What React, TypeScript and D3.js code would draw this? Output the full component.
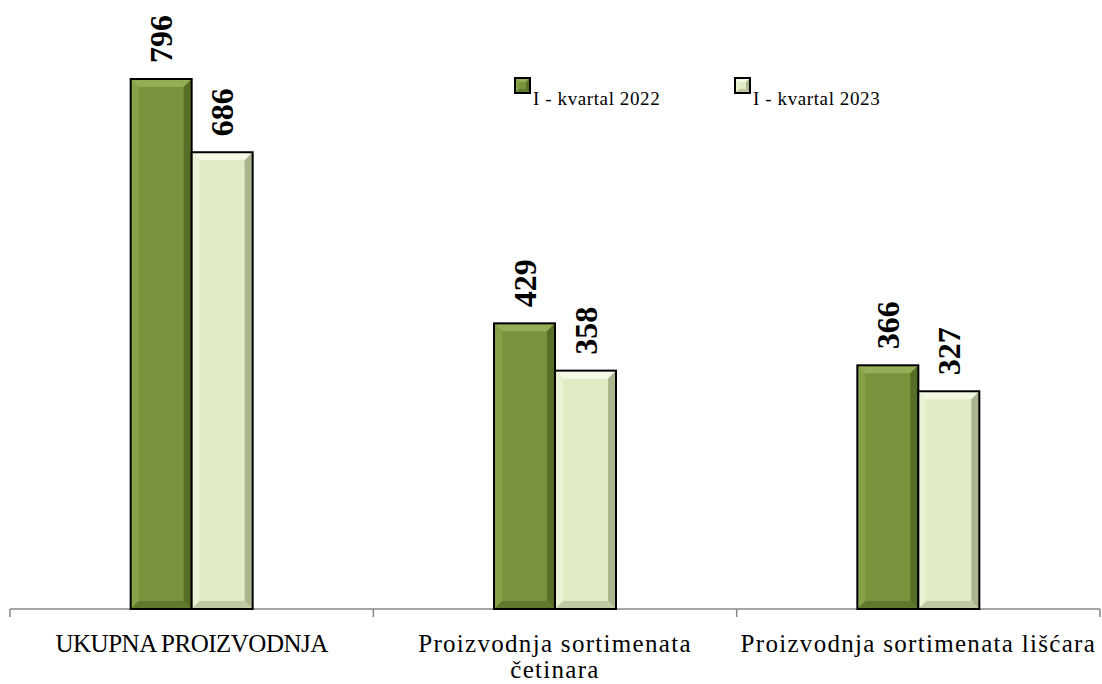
import React from "react";
import * as d3 from "d3";

const categories = ["UKUPNA PROIZVODNJA", "Proizvodnja sortimenata četinara", "Proizvodnja sortimenata lišćara"];
const categoryLines = [["UKUPNA PROIZVODNJA"], ["Proizvodnja sortimenata", "četinara"], ["Proizvodnja sortimenata lišćara"]];
const seriesNames = ["I - kvartal 2022", "I - kvartal 2023"];
const values2022 = [796, 429, 366];
const values2023 = [686, 358, 327];

const W = 1102, H = 684;
const margin = { left: 10, right: 2, top: 0, bottom: 75 };
const baseY = 609;

const palettes = [
  { main: "#77933C", top: "#93AE55", left: "#86A146", right: "#566E25", bottom: "#5F7A2C" },
  { main: "#E0ECC4", top: "#F4F9E6", left: "#EAF3D4", right: "#A9B58E", bottom: "#BFCAA2" },
];

function BevelRect({ x, y, w, h, p, b = 8, sw = 2 }: any) {
  const bb = Math.min(b, h / 2, w / 2);
  const x2 = x + w, y2 = y + h;
  return (
    <g>
      <rect x={x} y={y} width={w} height={h} fill={p.main} />
      <polygon points={`${x},${y} ${x2},${y} ${x2 - bb},${y + bb} ${x + bb},${y + bb}`} fill={p.top} />
      <polygon points={`${x},${y} ${x + bb},${y + bb} ${x + bb},${y2 - bb} ${x},${y2}`} fill={p.left} />
      <polygon points={`${x2},${y} ${x2},${y2} ${x2 - bb},${y2 - bb} ${x2 - bb},${y + bb}`} fill={p.right} />
      <polygon points={`${x},${y2} ${x2},${y2} ${x2 - bb},${y2 - bb} ${x + bb},${y2 - bb}`} fill={p.bottom} />
      <rect x={x} y={y} width={w} height={h} fill="none" stroke="#000" strokeWidth={sw} />
    </g>
  );
}

export default function App() {
  const x0 = d3.scaleBand<string>().domain(categories).range([margin.left, W - margin.right]).paddingInner(0).paddingOuter(0);
  const x1 = d3.scaleBand<string>().domain(seriesNames).range([0, 122]);
  const y = d3.scaleLinear().domain([0, 796]).range([baseY, 79]);
  const serif = "'Liberation Serif', 'DejaVu Serif', serif";
  const series = [values2022, values2023];

  return (
    <svg width={W} height={H} style={{ position: "absolute", left: 0, top: 0, background: "#fff" }}>
      {/* axis */}
      <line x1={margin.left} x2={W - margin.right} y1={baseY} y2={baseY} stroke="#888" strokeWidth={1.5} />
      {categories.map((c, i) => (
        <line key={"t" + i} x1={x0(c)!} x2={x0(c)!} y1={baseY} y2={baseY + 8} stroke="#888" strokeWidth={1.5} />
      ))}
      <line x1={W - margin.right} x2={W - margin.right} y1={baseY} y2={baseY + 8} stroke="#888" strokeWidth={1.5} />

      {categories.map((c, i) => {
        const cx = x0(c)! + x0.bandwidth() / 2;
        const gx = cx - 61;
        return (
          <g key={c}>
            {series.map((vals, s) => {
              const bx = gx + x1(seriesNames[s])!;
              const bw = x1.bandwidth();
              const by = y(vals[i]);
              return (
                <g key={s}>
                  <BevelRect x={bx} y={by} w={bw} h={baseY - by} p={palettes[s]} />
                  <text
                    transform={`translate(${bx + bw / 2},${by - 16}) rotate(-90)`}
                    textAnchor="start"
                    dominantBaseline="central"
                    fontFamily={serif}
                    fontWeight="bold"
                    fontSize={32}
                    fill="#000"
                  >
                    {vals[i]}
                  </text>
                </g>
              );
            })}
            {categoryLines[i].map((ln, k) => (
              <text
                key={k}
                x={cx}
                y={652 + k * 26}
                textAnchor="middle"
                fontFamily={serif}
                fontSize={25}
                letterSpacing={ln === ln.toUpperCase() ? -0.5 : 1.3}
                fill="#000"
              >
                {ln}
              </text>
            ))}
          </g>
        );
      })}

      {/* legend */}
      {seriesNames.map((n, s) => {
        const lx = [515, 735][s];
        return (
          <g key={n}>
            <BevelRect x={lx} y={78} w={15} h={15} p={palettes[s]} b={4} sw={2} />
            <text x={lx + 18} y={105} fontFamily={serif} fontSize={19} letterSpacing={0.6} fill="#000">
              {n}
            </text>
          </g>
        );
      })}
    </svg>
  );
}
